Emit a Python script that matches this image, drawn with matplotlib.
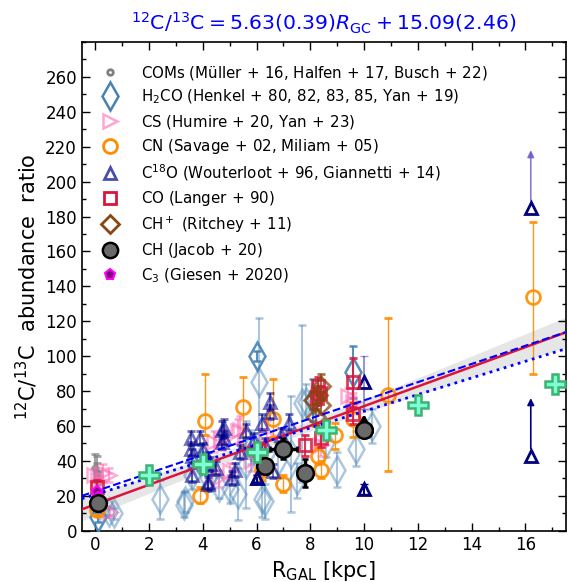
import matplotlib
matplotlib.use('Agg')
import matplotlib.pyplot as plt
from matplotlib.lines import Line2D
import numpy as np

# ajuste linear (titulo)
slope, slope_err = 5.63, 0.39
icpt, icpt_err = 15.09, 2.46
halfen = (5.21, 22.6)
yan = (4.77, 20.76)

# COMs
coms_x = [0.05, 0.0, 0.1, 0.05]
coms_y = [33, 36, 28, 30]
coms_e = [10, 8, 6, 9]

# H2CO
h2co_x = [0.1, 0.7, 0.5, 0.15, 2.4, 3.35, 3.3, 3.6, 4.6, 5.3, 5.6, 6.0, 6.1, 6.2, 6.3,
          7.5, 7.7, 7.85, 8.1, 9.6, 9.7, 10.3, 4.2, 5.0, 6.8, 7.3, 8.6, 9.0, 3.9, 5.8]
h2co_y = [8, 10, 11, 14, 18, 17, 15, 32, 25, 21, 38, 100, 85, 18, 17,
          29, 73, 74, 75, 91, 47, 60, 30, 24, 40, 44, 50, 35, 40, 48]
h2co_e = [3, 3, 2, 4, 11, 6, 7, 8, 6, 15, 25, 3, 37, 10, 10,
          10, 45, 10, 12, 15, 10, 10, 6, 8, 10, 33, 8, 10, 5, 10]
h2co_dark = [0, 11, 18, 19]

# CS
cs_x = [-0.05, 0.3, 0.5, 0.55, 0.1, 4.4, 4.7, 5.3, 5.4, 5.0, 4.6, 8.3, 8.4, 9.4, 9.6, 5.8, 6.4]
cs_y = [32, 33, 32, 11, 29, 51, 52, 57, 58, 34, 30, 78, 49, 77, 74, 40, 55]
cs_e = [4, 5, 4, 3, 3, 6, 6, 7, 8, 5, 5, 6, 6, 5, 5, 6, 8]

# CN
cn_x = [0.05, 3.9, 4.1, 5.5, 6.6, 6.2, 7.0, 8.3, 8.4, 8.9, 9.6, 10.9, 16.3]
cn_y = [12, 20, 63, 71, 64, 35, 27, 43, 35, 55, 64, 78, 134]
cn_lo = [3, 4, 8, 23, 10, 6, 5, 5, 5, 8, 10, 44, 44]
cn_hi = [3, 5, 27, 17, 23, 6, 5, 5, 5, 7, 10, 44, 43]

# C18O
c18o_x = [3.55, 3.9, 3.55, 4.8, 4.8, 4.2, 4.26, 5.2, 5.1, 5.6, 6.2, 6.5, 6.5, 6.6,
          3.6, 3.6, 4.2, 4.2, 4.7, 4.7, 4.5, 7.2, 6.9, 6.0, 5.9, 6.3, 5.4, 4.0]
c18o_y = [53, 53, 47, 59, 53, 28, 38, 35, 30, 57, 62, 74, 68, 34,
          43, 32, 41, 27, 58, 51, 36, 62, 55, 30, 52, 49, 45, 46]
c18o_e = [4, 4, 4, 5, 4, 4, 4, 4, 4, 4, 5, 5, 4, 4,
          4, 4, 4, 4, 5, 4, 4, 5, 4, 2, 4, 4, 4, 4]
c18o_solo_x = [6.0, 10.0, 10.0, 16.2, 16.2]
c18o_solo_y = [30, 85, 24, 185, 43]
c18o_lim_x = [16.2, 16.2]
c18o_lim_y = [185, 43]
c18o_lim_top = [218, 76]

# CO
co_x = [0.05, 6.1, 7.8, 8.4, 8.3, 8.35, 8.25, 9.6, 9.6]
co_y = [25, 46, 49, 53, 83, 79, 76, 85, 67]
co_e = [4, 4, 6, 5, 5, 4, 4, 14, 6]

# CH+
chp_x = [8.4, 8.1, 8.4, 8.2, 8.3]
chp_y = [83, 75, 72, 65, 78]
chp_e = [7, 5, 5, 5, 5]

# CH
ch_x = [0.1, 6.3, 7.0, 7.8, 10.0]
ch_y = [16, 37, 47, 33, 58]
ch_xe = [0.1, 0.2, 0.5, 0.1, 0.3]
ch_ye = [4, 4, 6, 8, 3]

# C3
c3_x = [0.05, 0.1]
c3_y = [22, 19]

# pontos verdes
mod_x = [2.0, 4.0, 6.0, 8.6, 12.0, 17.1]
mod_y = [32, 38, 45, 58, 72, 84]

plt.rcParams['font.family'] = 'DejaVu Sans'
plt.rcParams['mathtext.fontset'] = 'dejavusans'

fig = plt.figure(figsize=(5.68, 5.82), dpi=100)
ax = fig.add_axes([0.144, 0.088, 0.852, 0.84])

xx = np.linspace(-0.5, 17.5, 200)
fit = slope * xx + icpt
band = 2 * np.sqrt((slope_err * (xx - 7)) ** 2 + 1.5 ** 2)
ax.fill_between(xx, fit - band, fit + band, color='lightgray', alpha=0.55, lw=0, zorder=1)

ms_kw = dict(ls='none', capsize=3, elinewidth=1.5)
ax.errorbar(coms_x, coms_y, yerr=coms_e, fmt='o', ms=4, mfc='none', mec='gray', mew=2,
            ecolor='gray', alpha=0.7, zorder=3, **ms_kw)
for i in range(len(h2co_x)):
    a = 0.9 if i in h2co_dark else 0.45
    ax.errorbar(h2co_x[i], h2co_y[i], yerr=h2co_e[i], fmt='d', ms=14, mfc='none', mec='steelblue',
                mew=1.8, ecolor='steelblue', alpha=a, zorder=3, **ms_kw)
ax.errorbar(cs_x, cs_y, yerr=cs_e, fmt='>', ms=10, mfc='none', mec='hotpink', mew=1.8,
            ecolor='hotpink', alpha=0.55, zorder=3, **ms_kw)
ax.errorbar(cn_x, cn_y, yerr=[cn_lo, cn_hi], fmt='o', ms=10, mfc='none', mec='darkorange', mew=2,
            ecolor='darkorange', alpha=0.9, zorder=4, ls='none', capsize=3, elinewidth=1)
ax.errorbar(c18o_x, c18o_y, yerr=c18o_e, fmt='^', ms=9, mfc='none', mec='darkblue', mew=2,
            ecolor='darkblue', alpha=0.55, zorder=4, **ms_kw)
ax.plot(c18o_solo_x, c18o_solo_y, '^', ms=9, mfc='none', mec='navy', mew=2, zorder=5)
ax.errorbar([10.0], [85], yerr=[15], fmt='none', ecolor='navy', alpha=0.4, capsize=3, elinewidth=1.5)
ax.errorbar([10.0], [24], yerr=[3], fmt='none', ecolor='navy', capsize=3, elinewidth=1.5)
ax.errorbar([6.0], [30], yerr=[2], fmt='none', ecolor='navy', capsize=3, elinewidth=1.5)
for i, (xl, yl, yt) in enumerate(zip(c18o_lim_x, c18o_lim_y, c18o_lim_top)):
    cor = 'slateblue' if i == 0 else 'navy'
    ax.annotate('', xy=(xl, yt), xytext=(xl, yl + 4),
                arrowprops=dict(arrowstyle='-|>', color=cor, lw=1.2, alpha=0.8 if i == 0 else 1,
                                shrinkA=0, shrinkB=0, mutation_scale=10))
ax.errorbar(co_x, co_y, yerr=co_e, fmt='s', ms=8, mfc='none', mec='crimson', mew=2,
            ecolor='crimson', alpha=0.85, zorder=5, **ms_kw)
ax.errorbar(chp_x, chp_y, yerr=chp_e, fmt='D', ms=9, mfc='none', mec='saddlebrown', mew=2,
            ecolor='saddlebrown', alpha=0.75, zorder=5, **ms_kw)

ax.plot(xx, fit, color='crimson', lw=1.8, zorder=6)
ax.plot(xx, halfen[0] * xx + halfen[1], color='blue', ls='--', lw=1.5, zorder=6)
ax.plot(xx, yan[0] * xx + yan[1], color='blue', ls=':', lw=2, zorder=6)

ax.errorbar(ch_x, ch_y, xerr=ch_xe, yerr=ch_ye, fmt='o', ms=12, mfc='dimgray', mec='black', mew=1.8,
            ecolor='black', elinewidth=2.5, capsize=2, ls='none', zorder=8)
ax.annotate('', xy=(10.0, 67), xytext=(10.0, 61),
            arrowprops=dict(arrowstyle='-|>', color='black', lw=2.5, shrinkA=0, shrinkB=0,
                            mutation_scale=12), zorder=8)
ax.plot(c3_x, c3_y, 'p', ms=8, mfc='purple', mec='magenta', mew=1.5, ls='none', zorder=7)
ax.plot(mod_x, mod_y, 'P', ms=14, mfc='aquamarine', mec='mediumseagreen', mew=1.8, ls='none', zorder=9)

ax.set_xlim(-0.5, 17.5)
ax.set_ylim(0, 280)
ax.set_xticks(np.arange(0, 17, 2))
ax.set_xticks(np.arange(0, 18, 1), minor=True)
ax.set_yticks(np.arange(0, 261, 20))
ax.set_yticks(np.arange(0, 281, 10), minor=True)
ax.tick_params(which='both', direction='in', top=True, right=True, labelsize=12)
ax.tick_params(which='major', length=6, width=1)
ax.tick_params(which='minor', length=3, width=1)
for s in ax.spines.values():
    s.set_linewidth(1.2)

ax.set_xlabel(r'R$_{\rm GAL}$ [kpc]', fontsize=15)
ax.set_ylabel(r'$^{12}$C/$^{13}$C  abundance  ratio', fontsize=15)
ax.set_title(r'$^{12}\mathrm{C}/^{13}\mathrm{C} = 5.63(0.39)R_{\mathrm{GC}} + 15.09(2.46)$',
             color='blue', fontsize=14.7, pad=8)

pl = r'$\,+\,$'
handles = [
    Line2D([], [], ls='none', marker='o', ms=4, mfc='none', mec='gray', mew=2),
    Line2D([], [], ls='none', marker='d', ms=14, mfc='none', mec='steelblue', mew=1.8),
    Line2D([], [], ls='none', marker='>', ms=10, mfc='none', mec='hotpink', mew=1.8, alpha=0.6),
    Line2D([], [], ls='none', marker='o', ms=10, mfc='none', mec='darkorange', mew=2),
    Line2D([], [], ls='none', marker='^', ms=9, mfc='none', mec='darkblue', mew=2, alpha=0.7),
    Line2D([], [], ls='none', marker='s', ms=8, mfc='none', mec='crimson', mew=2),
    Line2D([], [], ls='none', marker='D', ms=9, mfc='none', mec='saddlebrown', mew=2),
    Line2D([], [], ls='none', marker='o', ms=11, mfc='dimgray', mec='black', mew=1.8),
    Line2D([], [], ls='none', marker='p', ms=8, mfc='purple', mec='magenta', mew=1.5),
]
labels = [
    'COMs (Müller' + pl + '16, Halfen' + pl + '17, Busch' + pl + '22)',
    'H$_2$CO (Henkel' + pl + '80, 82, 83, 85, Yan' + pl + '19)',
    'CS (Humire' + pl + '20, Yan' + pl + '23)',
    'CN (Savage' + pl + '02, Miliam' + pl + '05)',
    'C$^{18}$O (Wouterloot' + pl + '96, Giannetti' + pl + '14)',
    'CO (Langer' + pl + '90)',
    'CH$^+$ (Ritchey' + pl + '11)',
    'CH (Jacob' + pl + '20)',
    'C$_3$ (Giesen' + pl + '2020)',
]
ax.legend(handles, labels, loc='upper left', bbox_to_anchor=(0.0145, 0.968), frameon=False,
          fontsize=10.8, handletextpad=1.1, labelspacing=0.42, borderaxespad=0, borderpad=0.4)

fig.savefig('out.png', dpi=100)
